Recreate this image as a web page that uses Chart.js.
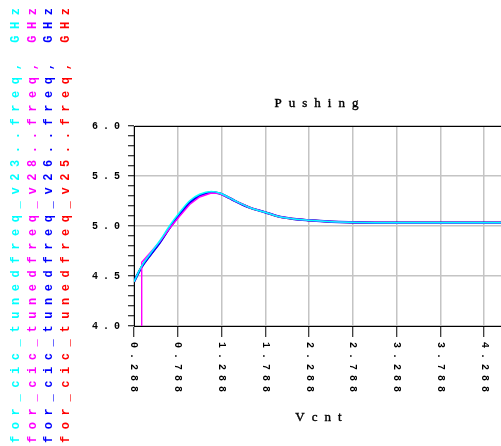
<!DOCTYPE html>
<html>
<head>
<meta charset="utf-8">
<script src="https://cdn.jsdelivr.net/npm/chart.js@4/dist/chart.umd.min.js"></script>
<style>
    body { margin: 0; background: #fff; }
</style>
</head>
<body>
<canvas id="pushChart" width="501" height="446"></canvas>
<script>
// Данные
const seriesNames = ['for_cic_tunedfreq_v23..freq, GHz', 'for_cic_tunedfreq_v28..freq, GHz', 'for_cic_tunedfreq_v26..freq, GHz', 'for_cic_tunedfreq_v25..freq, GHz'];
const seriesColors = ['#00ffff', '#ff00ff', '#0000ff', '#ff0000'];

const vcnt = [0.288, 0.375, 0.47, 0.583, 0.697, 0.811, 0.924, 1.038, 1.171, 1.265, 1.379, 1.436, 1.606, 1.788, 1.947, 2.117, 2.288, 2.458, 2.629, 2.856, 3.288, 3.788, 4.288, 4.48];
const freqV23 = [4.443, 4.598, 4.718, 4.852, 5.005, 5.137, 5.252, 5.317, 5.345, 5.33, 5.282, 5.255, 5.185, 5.137, 5.093, 5.07, 5.057, 5.047, 5.04, 5.035, 5.033, 5.033, 5.033, 5.033];
const freqV26 = [4.443, 4.59, 4.705, 4.835, 4.985, 5.115, 5.232, 5.302, 5.336, 5.326, 5.28, 5.253, 5.185, 5.137, 5.093, 5.07, 5.057, 5.047, 5.04, 5.035, 5.033, 5.033, 5.033, 5.033];
const freqV25 = [4.443, 4.59, 4.705, 4.835, 4.985, 5.115, 5.232, 5.302, 5.336, 5.326, 5.28, 5.253, 5.185, 5.137, 5.093, 5.07, 5.057, 5.047, 5.04, 5.035, 5.033, 5.033, 5.033, 5.033];

const vcntV28 = [0.374, 0.376, 0.47, 0.583, 0.697, 0.811, 0.924, 1.038, 1.171, 1.265, 1.379, 1.436, 1.606, 1.788, 1.947, 2.117, 2.288, 2.458, 2.629, 2.856, 3.288, 3.788, 4.288, 4.48];
const freqV28 = [4.0, 4.637, 4.73, 4.845, 4.98, 5.1, 5.215, 5.29, 5.33, 5.325, 5.28, 5.253, 5.185, 5.137, 5.093, 5.07, 5.057, 5.047, 5.04, 5.035, 5.033, 5.033, 5.033, 5.033];

const xTicks = [0.288, 0.788, 1.288, 1.788, 2.288, 2.788, 3.288, 3.788, 4.288];
const xMin = 0.288;
const xMax = 4.48;
const yMin = 4.0;
const yMax = 6.0;

const titleText = 'Pushing';
const xTitleText = 'Vcnt';

const toPoints = (xs, ys) => xs.map((x, i) => ({ x: x, y: ys[i] }));

const gridGray = '#c4c4c4';
const monoFont = 'bold 10px "Liberation Mono", "DejaVu Sans Mono", monospace';
const serifFont = '13px "Liberation Serif", "DejaVu Serif", serif';

// Подписи, которые Chart.js не умеет рисовать так, как на картинке
const decorPlugin = {
    id: 'decor',
    beforeDraw(chart) {
        chart.ctx.letterSpacing = '5px';
    },
    afterDraw(chart) {
        const ctx = chart.ctx;
        const area = chart.chartArea;
        const xScale = chart.scales.x;

        ctx.save();
        // верхняя рамка
        ctx.strokeStyle = '#000';
        ctx.lineWidth = 1;
        ctx.beginPath();
        ctx.moveTo(area.left, area.top + 0.5);
        ctx.lineTo(area.right, area.top + 0.5);
        ctx.stroke();

        // подписи оси X, повернутые по часовой стрелке
        ctx.fillStyle = '#000';
        ctx.font = monoFont;
        ctx.letterSpacing = '5px';
        ctx.textAlign = 'left';
        ctx.textBaseline = 'middle';
        xTicks.forEach(v => {
            const px = xScale.getPixelForValue(v);
            ctx.save();
            ctx.translate(px, area.bottom + 16);
            ctx.rotate(Math.PI / 2);
            ctx.fillText(v.toFixed(3), 0, 0);
            ctx.restore();
        });

        // заголовок и подпись оси
        ctx.font = serifFont;
        ctx.letterSpacing = '7px';
        ctx.strokeStyle = '#000';
        ctx.lineWidth = 0.4;
        const cx = (area.left + area.right) / 2;
        let w = ctx.measureText(titleText).width - 7;
        ctx.fillText(titleText, cx - w / 2 - 1, 104);
        ctx.strokeText(titleText, cx - w / 2 - 1, 104);
        w = ctx.measureText(xTitleText).width - 7;
        ctx.fillText(xTitleText, cx - w / 2 + 1, 418);
        ctx.strokeText(xTitleText, cx - w / 2 + 1, 418);

        // легенда: вертикальный текст слева
        ctx.font = 'bold 12px "Liberation Mono", "DejaVu Sans Mono", monospace';
        ctx.letterSpacing = '6.6px';
        chart.data.datasets.forEach((ds, i) => {
            ctx.save();
            ctx.fillStyle = ds.borderColor;
            ctx.translate(16 + i * 16.6, 443);
            ctx.rotate(-Math.PI / 2);
            ctx.fillText(ds.label, 0, 0);
            ctx.restore();
        });
        ctx.restore();
        ctx.letterSpacing = '0px';
    }
};

const datasets = [
    { label: seriesNames[0], data: toPoints(vcnt, freqV23), borderColor: seriesColors[0], borderWidth: 1.5 },
    { label: seriesNames[1], data: toPoints(vcntV28, freqV28), borderColor: seriesColors[1], borderWidth: 1.4, cubicInterpolationMode: 'default', tension: 0 },
    { label: seriesNames[2], data: toPoints(vcnt, freqV26), borderColor: seriesColors[2], borderWidth: 2.4 },
    { label: seriesNames[3], data: toPoints(vcnt, freqV25), borderColor: seriesColors[3], borderWidth: 2 }
].map(ds => Object.assign({
    pointRadius: 0,
    fill: false,
    cubicInterpolationMode: 'monotone'
}, ds));

const isMajor = v => Math.abs(v * 2 - Math.round(v * 2)) < 1e-6;

new Chart(document.getElementById('pushChart').getContext('2d'), {
    type: 'line',
    data: { datasets: datasets },
    options: {
        responsive: false,
        animation: false,
        layout: { padding: { top: 126, left: 0, right: 0, bottom: 0 } },
        plugins: {
            legend: { display: false },
            tooltip: { enabled: false },
            title: { display: false }
        },
        scales: {
            x: {
                type: 'linear',
                min: xMin,
                max: xMax,
                afterBuildTicks: scale => { scale.ticks = xTicks.map(v => ({ value: v })); },
                afterFit: scale => { scale.height = 120; },
                ticks: { display: false },
                grid: { color: gridGray, lineWidth: 1.5, tickColor: '#000', tickLength: 11, tickWidth: 1 },
                border: { color: '#000', width: 1 }
            },
            y: {
                min: yMin,
                max: yMax,
                afterFit: scale => { scale.width = 134; },
                ticks: {
                    stepSize: 0.1,
                    autoSkip: false,
                    padding: 3,
                    color: '#000',
                    font: { family: '"Liberation Mono", "DejaVu Sans Mono", monospace', size: 10, weight: 'bold' },
                    callback: v => isMajor(v) ? v.toFixed(1) : ''
                },
                grid: {
                    color: c => isMajor(c.tick.value) ? gridGray : 'rgba(0,0,0,0)',
                    lineWidth: 1.5,
                    tickColor: '#000',
                    tickLength: 6,
                    tickWidth: 1
                },
                border: { color: '#000', width: 1 }
            }
        }
    },
    plugins: [decorPlugin]
});
</script>
</body>
</html>
